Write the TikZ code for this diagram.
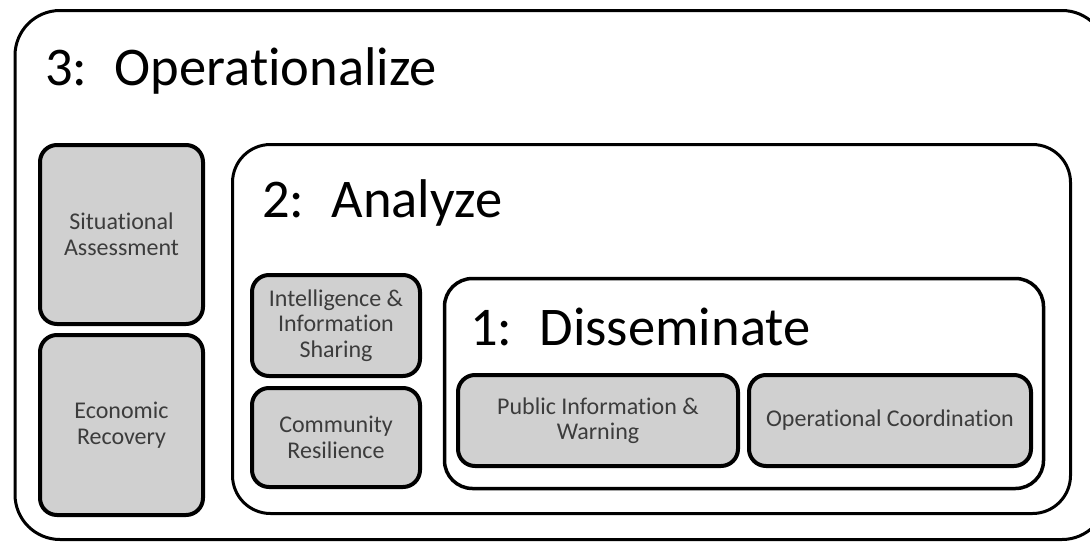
\documentclass[tikz,border=0pt]{standalone}
\usepackage{fontspec}
\setmainfont{Carlito}[Ligatures=NoCommon]
\begin{document}
\begin{tikzpicture}[x=1pt,y=-1pt,
  frame/.style={draw=black, line width=3pt, fill=white, inner sep=0pt},
  capbox/.style={draw=black, line width=4pt, fill=boxgray, rounded corners=17pt,
    inner sep=0pt, align=center, text=labelgray,
    font=\fontsize{24}{25.5}\selectfont},
  title/.style={anchor=base west, inner sep=0pt, text=black,
    font=\fontsize{54.5}{60}\selectfont}]
\definecolor{boxgray}{RGB}{208,208,208}
\definecolor{labelgray}{RGB}{60,60,60}
\useasboundingbox (0,0) rectangle (1090,544);
\clip (0,0) rectangle (1090,544);
\fill[white] (0,0) rectangle (1090,544);

% nested frames
\node[frame, rounded corners=45pt, minimum width=1092pt, minimum height=529pt]
  (outer) at (561,275) {};
\node[frame, rounded corners=38pt, minimum width=838pt, minimum height=369pt]
  (analyze) at (651.5,329) {};
\node[frame, line width=3.5pt, rounded corners=28pt, minimum width=599pt, minimum height=210pt]
  (dissem) at (744,383.5) {};

% frame titles
\node[title] (t3) at (45,85) {3:\hspace{0.5em}Operationalize};
\node[title] (t2) at (262,217) {2:\hspace{0.5em}Analyze};
\node[title] (t1) at (470,345) {1:\hspace{0.5em}Disseminate};

% capability boxes
\node[capbox, minimum width=163pt, minimum height=179pt] (sit) at (121.5,234.5)
  {Situational\\Assessment};
\node[capbox, minimum width=163pt, minimum height=180pt] (eco) at (121.5,425)
  {Economic\\Recovery};
\node[capbox, minimum width=168pt, minimum height=101pt] (intel) at (336,325.5)
  {Intelligence \&\\Information\\Sharing};
\node[capbox, minimum width=168pt, minimum height=99pt] (comm) at (336,437.5)
  {Community\\Resilience};
\node[capbox, minimum width=280pt, minimum height=91pt] (pub) at (598,420.5)
  {Public Information \&\\Warning};
\node[capbox, minimum width=282pt, minimum height=91pt] (ops) at (890,420.5)
  {Operational Coordination};
\end{tikzpicture}
\end{document}
